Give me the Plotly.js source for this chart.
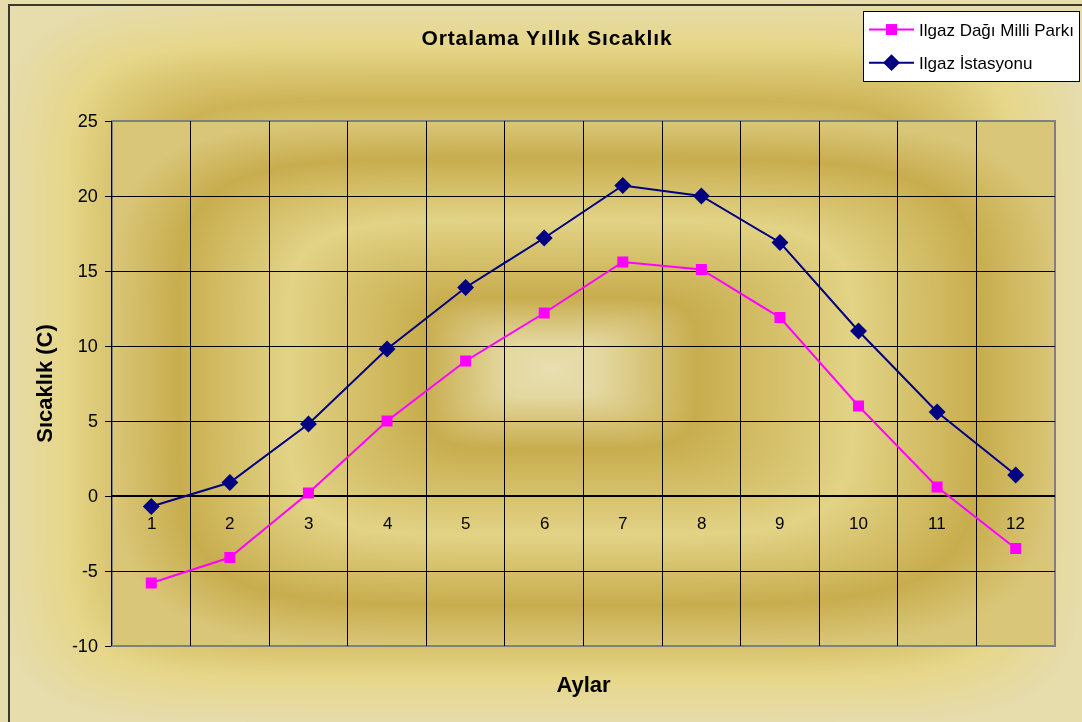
<!DOCTYPE html>
<html>
<head>
<meta charset="utf-8">
<script src="https://cdn.plot.ly/plotly-3.0.1.min.js"></script>
<style>
  html, body { margin: 0; padding: 0; background: #e6dcac; }
  #wrap { position: relative; width: 1082px; height: 722px; overflow: hidden; }
  #bg { position: absolute; left: 0; top: 0; }
  #chart { position: absolute; left: 0; top: 0; width: 1082px; height: 722px; }
  #chart .gtitle { letter-spacing: 0.9px; }
</style>
</head>
<body>
<div id="wrap">
  <canvas id="bg" width="1082" height="722"></canvas>
  <div id="chart"></div>
</div>
<script>
// ---- data ----
const months = [1, 2, 3, 4, 5, 6, 7, 8, 9, 10, 11, 12];
const monthLabels = ["1", "2", "3", "4", "5", "6", "7", "8", "9", "10", "11", "12"];
const milliPark = [-5.8, -4.1, 0.2, 5.0, 9.0, 12.2, 15.6, 15.1, 11.9, 6.0, 0.6, -3.5];
const istasyon = [-0.7, 0.9, 4.8, 9.8, 13.9, 17.2, 20.7, 20.0, 16.9, 11.0, 5.6, 1.4];
const yTickVals = [-10, -5, 0, 5, 10, 15, 20, 25];
const yTickText = ["-10", "-5", "0", "5", "10", "15", "20", "25"];
const seriesNames = ["Ilgaz Dağı Milli Parkı", "Ilgaz İstasyonu"];
const chartTitle = "Ortalama Yıllık Sıcaklık";
const xTitle = "Aylar";
const yTitle = "Sıcaklık (C)";

const FONT = "Liberation Sans, Arial, sans-serif";
const W = 1082, H = 722;
const M = { l: 112, r: 27, t: 121, b: 76, autoexpand: false };

// ---- background gradient (Excel "Gold" rectangular gradient look) ----
function hex(c) { return [parseInt(c.substr(1,2),16), parseInt(c.substr(3,2),16), parseInt(c.substr(5,2),16)]; }
function colorAt(stops, t) {
  if (t <= stops[0][0]) return hex(stops[0][1]);
  for (let i = 1; i < stops.length; i++) {
    if (t <= stops[i][0]) {
      const a = stops[i-1], b = stops[i];
      const f = (t - a[0]) / (b[0] - a[0]);
      const ca = hex(a[1]), cb = hex(b[1]);
      return [ca[0] + (cb[0]-ca[0])*f, ca[1] + (cb[1]-ca[1])*f, ca[2] + (cb[2]-ca[2])*f];
    }
  }
  return hex(stops[stops.length-1][1]);
}
function paintRect(img, x0, y0, x1, y1, cx, cy, stops, p) {
  for (let y = y0; y < y1; y++) {
    for (let x = x0; x < x1; x++) {
      const dx = x < cx ? (cx - x) / (cx - x0) : (x - cx) / (x1 - cx);
      const dy = y < cy ? (cy - y) / (cy - y0) : (y - cy) / (y1 - cy);
      const t = Math.min(1, Math.pow(Math.pow(dx, p) + Math.pow(dy, p), 1 / p));
      const c = colorAt(stops, t);
      const k = (y * W + x) * 4;
      img.data[k] = c[0]; img.data[k+1] = c[1]; img.data[k+2] = c[2]; img.data[k+3] = 255;
    }
  }
}
(function drawBg() {
  const cv = document.getElementById('bg');
  const ctx = cv.getContext('2d');
  const img = ctx.createImageData(W, H);
  const paperStops = [[0, '#e6dcac'], [0.23, '#c7ac4c'], [0.55, '#e6d78a'], [0.72, '#cdb356'], [0.88, '#e6d78a'], [1.0, '#e6dcac']];
  paintRect(img, 0, 0, W, H, 541, 361, paperStops, 8);
  const plotStops = [[0, '#e8deb0'], [0.1, '#e4d8a0'], [0.29, '#c8ad4e'], [0.6, '#e2d386'], [0.85, '#c8ad4e'], [1.0, '#d9c678']];
  paintRect(img, M.l, M.t, W - M.r, H - M.b, 550, 368, plotStops, 5);
  ctx.putImageData(img, 0, 0);
  ctx.strokeStyle = '#3a3828';
  ctx.lineWidth = 2;
  ctx.beginPath();
  ctx.moveTo(9, H); ctx.lineTo(9, 5); ctx.lineTo(W, 5);
  ctx.stroke();
})();

// ---- traces ----
const traces = [
  {
    x: months, y: milliPark, name: seriesNames[0], type: 'scatter', mode: 'lines+markers',
    line: { color: '#ff00ff', width: 2 },
    marker: { symbol: 'square', size: 11, color: '#ff00ff' },
    legendgroup: 'a'
  },
  {
    x: months, y: istasyon, name: seriesNames[1], type: 'scatter', mode: 'lines+markers',
    line: { color: '#000080', width: 2 },
    marker: { symbol: 'diamond', size: 13, color: '#000080' },
    legendgroup: 'b'
  }
];

// category boundaries for vertical gridlines
const bounds = months.slice(0, -1).map(m => m + 0.5);

// x tick labels drawn on the zero line
const annotations = months.map((m, i) => ({
  x: m, y: 0, xref: 'x', yref: 'y', text: monthLabels[i], showarrow: false,
  yshift: -27, font: { family: FONT, size: 17, color: '#000' }
}));

const layout = {
  width: W, height: H,
  paper_bgcolor: 'rgba(0,0,0,0)',
  plot_bgcolor: 'rgba(0,0,0,0)',
  margin: M,
  title: {
    text: '<b>' + chartTitle + '</b>',
    font: { family: FONT, size: 21, color: '#000' },
    xref: 'container', x: 547 / W, xanchor: 'center',
    yref: 'container', y: 1 - 38 / H, yanchor: 'middle'
  },
  xaxis: {
    range: [0.5, 12.5],
    tickmode: 'array', tickvals: bounds, showticklabels: false, ticks: '',
    showgrid: true, gridcolor: '#000', gridwidth: 1,
    zeroline: false, showline: false,
    title: { text: '<b>' + xTitle + '</b>', font: { family: FONT, size: 22, color: '#000' }, standoff: 30 },
    automargin: false
  },
  yaxis: {
    range: [-10, 25],
    tickmode: 'array', tickvals: yTickVals, ticktext: yTickText,
    showgrid: true, gridcolor: '#000', gridwidth: 1,
    zeroline: true, zerolinecolor: '#000', zerolinewidth: 1.2,
    showline: true, linecolor: '#000', linewidth: 1.5,
    ticks: 'outside', ticklen: 6, tickcolor: '#000', tickwidth: 1,
    ticklabelstandoff: 3,
    tickfont: { family: FONT, size: 18, color: '#000' },
    title: { text: '<b>' + yTitle + '</b>', font: { family: FONT, size: 22, color: '#000' }, standoff: 13 },
    automargin: false
  },
  shapes: [
    { type: 'rect', xref: 'paper', yref: 'paper', x0: 0, x1: 1, y0: 0, y1: 1,
      line: { color: '#808080', width: 2 }, layer: 'below' }
  ],
  annotations: annotations,
  showlegend: true,
  legend: {
    xref: 'container', yref: 'container',
    x: 1080 / W, xanchor: 'right', y: 1 - 11 / H, yanchor: 'top',
    bgcolor: '#ffffff', bordercolor: '#000', borderwidth: 1,
    font: { family: FONT, size: 17, color: '#000' },
    traceorder: 'grouped', tracegroupgap: 8, itemwidth: 45
  }
};

Plotly.newPlot('chart', traces, layout, { displayModeBar: false, staticPlot: true });
</script>
</body>
</html>
